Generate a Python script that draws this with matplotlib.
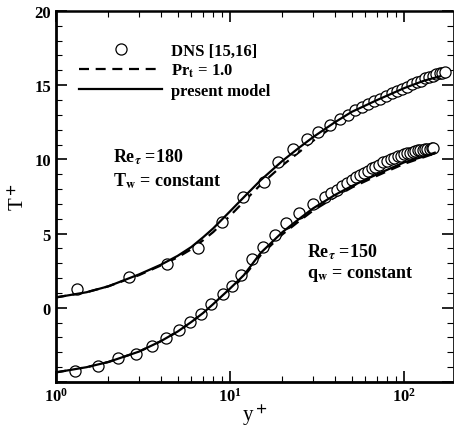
import numpy as np
import matplotlib
matplotlib.use("Agg")
import matplotlib.pyplot as plt
from matplotlib.ticker import MultipleLocator

plt.rcParams['font.family'] = ['Liberation Serif', 'DejaVu Serif']
plt.rcParams['font.weight'] = 'bold'
plt.rcParams['mathtext.fontset'] = 'stix'

# Re_tau = 180, T_w = constant
dns_180_x = [1.32, 2.63, 4.35, 6.55, 9.0, 11.8, 15.6, 18.9, 23.0, 27.6, 32, 37.5, 42.7, 47.5,
             52, 57, 62, 67, 73, 79, 85, 91, 97, 104, 111, 118, 125, 132, 139, 146, 153, 160, 166, 172]
dns_180_y = [1.3, 2.1, 2.95, 4.0, 5.8, 7.45, 8.5, 9.85, 10.7, 11.4, 11.85, 12.3, 12.7, 13.0,
             13.35, 13.55, 13.75, 13.9, 14.1, 14.3, 14.45, 14.6, 14.75, 14.9, 15.05, 15.2, 15.3,
             15.45, 15.55, 15.65, 15.75, 15.8, 15.85, 15.9]
model_180_x = [1.0, 1.5, 2, 3, 4, 5, 6, 7, 8, 10, 12, 15, 20, 25, 30, 40, 50, 70, 100, 130, 161]
model_180_y = [0.7, 1.05, 1.45, 2.25, 2.9, 3.5, 4.1, 4.75, 5.35, 6.5, 7.45, 8.6, 9.9, 10.8,
               11.5, 12.5, 13.2, 14.0, 14.8, 15.3, 15.6]
prt_180_y = [0.7, 1.05, 1.45, 2.2, 2.85, 3.4, 3.95, 4.55, 5.1, 6.2, 7.15, 8.3, 9.6, 10.5,
             11.25, 12.3, 13.05, 13.9, 14.75, 15.25, 15.55]

# Re_tau = 150, q_w = constant
dns_150_x = [1.29, 1.74, 2.27, 2.88, 3.56, 4.28, 5.1, 5.9, 6.8, 7.8, 9.1, 10.3, 11.6, 13.4,
             15.5, 18.1, 21.1, 25, 30, 35,
             38, 41, 44, 47, 50, 53, 56, 59, 62, 65, 68, 72, 76, 80, 84, 88, 92, 96, 100,
             104, 108, 112, 116, 120, 124, 128, 132, 136, 140, 144, 147]
dns_150_y = [-4.25, -3.9, -3.4, -3.1, -2.6, -2.05, -1.5, -0.96, -0.4, 0.27, 0.9, 1.5, 2.2, 3.3,
             4.1, 4.9, 5.7, 6.4, 7.0, 7.45,
             7.75, 7.95, 8.2, 8.4, 8.6, 8.8, 8.95, 9.1, 9.25, 9.4, 9.5, 9.65, 9.8, 9.9, 10.0,
             10.1, 10.2, 10.25, 10.35, 10.4, 10.45, 10.5, 10.55, 10.6, 10.62, 10.65, 10.68,
             10.7, 10.72, 10.74, 10.75]
model_150_x = [1.0, 1.5, 2, 3, 4, 5, 6, 7, 8, 10, 12, 15, 20, 25, 30, 40, 50, 70, 100, 130, 150]
model_150_y = [-4.35, -4.0, -3.65, -2.95, -2.25, -1.6, -0.95, -0.35, 0.25, 1.3, 2.2, 3.7,
               5.1, 6.0, 6.7, 7.6, 8.2, 9.0, 9.8, 10.2, 10.45]
prt_150_y = [-4.35, -4.0, -3.65, -2.95, -2.25, -1.6, -0.95, -0.35, 0.2, 1.2, 2.1, 3.55,
             4.95, 5.85, 6.55, 7.45, 8.1, 8.9, 9.7, 10.15, 10.4]

y_ticks = [-5, 0, 5, 10, 15, 20]
y_tick_labels = ['', '0', '5', '10', '15', '20']

fig = plt.figure(figsize=(4.54, 4.27), dpi=100)
ax = fig.add_axes([0.1233, 0.103, 0.8737, 0.869])

circ = dict(linestyle='none', marker='o', markersize=8, markerfacecolor='white',
            markeredgecolor='black', markeredgewidth=0.9)
dash = (0, (4.5, 3))

ax.plot(model_180_x, prt_180_y, color='black', lw=1.6, ls=dash)
ax.plot(model_150_x, prt_150_y, color='black', lw=1.6, ls=dash)
ax.plot(dns_180_x, dns_180_y, **circ)
ax.plot(dns_150_x, dns_150_y, **circ)
ax.plot(model_180_x, model_180_y, color='black', lw=1.6)
ax.plot(model_150_x, model_150_y, color='black', lw=1.6)

# legend handles
h1, = ax.plot([], [], **circ)
h2, = ax.plot([], [], color='black', lw=1.6, ls=dash)
h3, = ax.plot([], [], color='black', lw=1.6)
ax.legend([h1, h2, h3], ['DNS [15,16]', r'Pr$_\mathrm{t}$ = 1.0', 'present model'],
          loc='upper left', bbox_to_anchor=(0.02, 0.955), frameon=False, fontsize=12,
          handlelength=5.0, handletextpad=0.55, labelspacing=0.2, numpoints=1)

ax.set_xscale('log')
ax.set_xlim(1, 190)
ax.set_ylim(-5, 20)
ax.set_yticks(y_ticks, y_tick_labels)
ax.yaxis.set_minor_locator(MultipleLocator(1))
ax.tick_params(which='both', direction='in', top=True, right=True, labelsize=12)
ax.tick_params(which='major', length=8, width=1.2)
ax.tick_params(which='minor', length=4, width=0.8)
for s in ax.spines.values():
    s.set_linewidth(1.2)
ax.spines['left'].set_linewidth(2)
ax.spines['bottom'].set_linewidth(2)
ax.spines['top'].set_linewidth(1.8)
ax.spines['right'].set_linewidth(0.6)

ax.set_xlabel(r'y$^+$', fontsize=15, labelpad=-2)
ax.set_ylabel(r'T$^+$', fontsize=15, labelpad=4)

ax.text(2.13, 10.2, r'Re$_\tau$ =180', fontsize=13, ha='left', va='center')
ax.text(2.13, 8.6, r'T$_\mathrm{w}$ = constant', fontsize=13, ha='left', va='center')
ax.text(27.7, 3.8, r'Re$_\tau$ =150', fontsize=13, ha='left', va='center')
ax.text(27.7, 2.3, r'q$_\mathrm{w}$ = constant', fontsize=13, ha='left', va='center')

fig.savefig('out.png', dpi=100)
